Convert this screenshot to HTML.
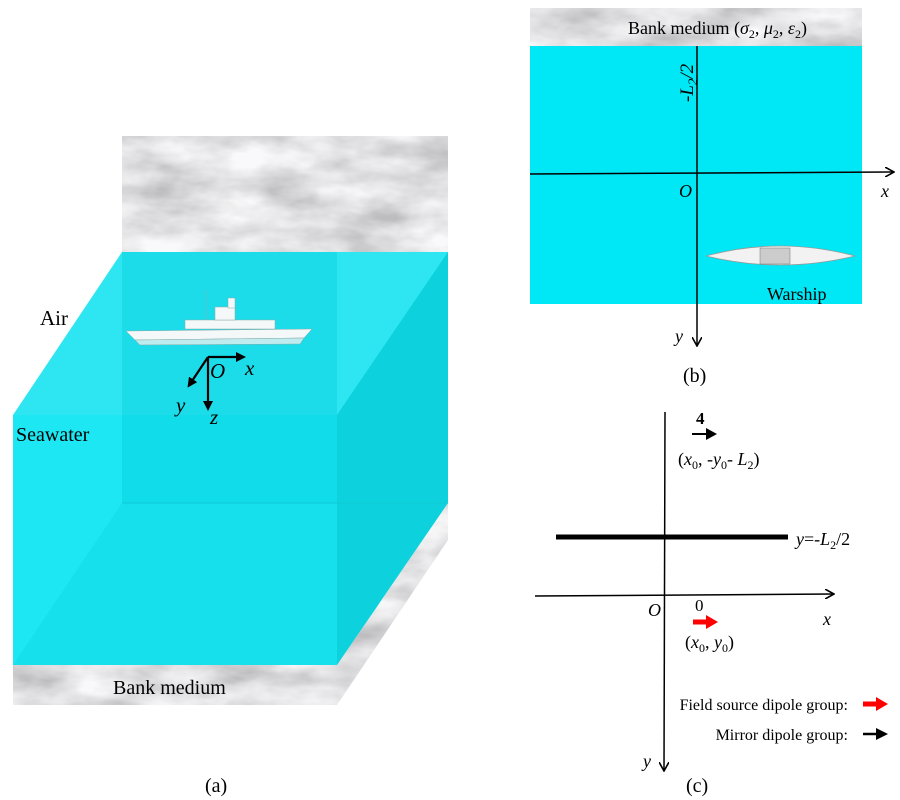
<!DOCTYPE html>
<html><head><meta charset="utf-8"><style>
html,body{margin:0;padding:0;background:#fff;}
svg{display:block;font-family:"Liberation Serif",serif;}
</style></head><body>
<svg width="900" height="800" viewBox="0 0 900 800" xmlns="http://www.w3.org/2000/svg">
<defs>
<filter id="marble" x="0" y="0" width="100%" height="100%">
<feTurbulence type="fractalNoise" baseFrequency="0.015 0.035" numOctaves="4" seed="3" result="n"/>
<feColorMatrix type="matrix" values="0 0 0 0 0.95  0 0 0 0 0.95  0 0 0 0 0.96  -1.6 0 0 0 1.35" in="n" result="c"/>
<feFlood flood-color="#bdbdc0" result="f"/>
<feComposite in="c" in2="f" operator="over"/>
<feComposite in2="SourceGraphic" operator="in"/>
</filter>
<marker id="ah" markerWidth="10" markerHeight="10" refX="8" refY="5" orient="auto" markerUnits="userSpaceOnUse">
<path d="M0,0 L9,5 L0,10" fill="none" stroke="#000" stroke-width="1.6"/></marker>
<marker id="ahf" markerWidth="10" markerHeight="10" refX="2" refY="5" orient="auto" markerUnits="userSpaceOnUse">
<path d="M0,0 L10,5 L0,10 z" fill="#000"/></marker>
</defs>

<!-- Panel (a) -->
<rect x="122" y="136" width="326" height="117" fill="#ccc" filter="url(#marble)"/>
<rect x="13" y="665" width="324" height="40" fill="#ccc" filter="url(#marble)"/>
<polygon points="337,665 448,503 448,540 337,705" fill="#ccc" filter="url(#marble)"/>
<rect x="122" y="252" width="326" height="251" fill="#14dbe8"/>
<polygon points="13,415 122,252 448,252 337,415" fill="#2ee6f2"/>
<polygon points="337,415 448,252 448,503 337,665" fill="#0dd2de"/>
<rect x="13" y="415" width="324" height="250" fill="#10e6f2" opacity="0.95"/>
<rect x="122" y="252" width="215" height="251" fill="#12d6e2" opacity="0.6"/>
<polygon points="13,665 122,503 337,503 337,665" fill="#12dce8" opacity="0.6"/>
<line x1="122" y1="503" x2="448" y2="503" stroke="#0fc9d6" stroke-width="1"/>
<g fill="#f4f8f8" stroke="#8aa" stroke-width="0.5">
<path d="M126,331 L312,329 L304,338 L135,340 Z"/>
<path d="M135,340 L304,338 L300,344 L140,345 Z" fill="#bfecef"/>
<rect x="185" y="320" width="90" height="9"/>
<rect x="215" y="307" width="20" height="13"/>
<rect x="228" y="298" width="7" height="10"/>
<line x1="206" y1="290" x2="206" y2="320"/>
</g>
<text x="40" y="325" font-size="21">Air</text>
<text x="16" y="441" font-size="20">Seawater</text>
<text x="113" y="694" font-size="20">Bank medium</text>
<g stroke="#000" stroke-width="2.2">
<line x1="208" y1="357" x2="238" y2="357" marker-end="url(#ahf)"/>
<line x1="208" y1="357" x2="208" y2="403" marker-end="url(#ahf)"/>
<line x1="208" y1="357" x2="192" y2="381" marker-end="url(#ahf)"/>
</g>
<text x="210" y="378" font-size="21" font-style="italic">O</text>
<text x="245" y="375" font-size="21" font-style="italic">x</text>
<text x="176" y="412" font-size="21" font-style="italic">y</text>
<text x="210" y="424" font-size="21" font-style="italic">z</text>
<text x="205" y="792" font-size="20">(a)</text>

<!-- Panel (b) -->
<rect x="530" y="8" width="332" height="38" fill="#ccc" filter="url(#marble)"/>
<rect x="530" y="46" width="332" height="258" fill="#00e8f5"/>
<text x="628" y="34" font-size="18">Bank medium (<tspan font-style="italic">σ</tspan><tspan font-size="12" dy="4">2</tspan><tspan dy="-4">, </tspan><tspan font-style="italic">μ</tspan><tspan font-size="12" dy="4">2</tspan><tspan dy="-4">, </tspan><tspan font-style="italic">ε</tspan><tspan font-size="12" dy="4">2</tspan><tspan dy="-4">)</tspan></text>
<line x1="530" y1="174" x2="893" y2="172" stroke="#000" stroke-width="1.5" marker-end="url(#ah)"/>
<line x1="697" y1="46" x2="697" y2="345" stroke="#000" stroke-width="1.5" marker-end="url(#ah)"/>
<text transform="translate(693,102) rotate(-90)" font-size="19" font-style="italic">-L<tspan font-size="13" dy="4">2</tspan><tspan dy="-4">/2</tspan></text>
<text x="679" y="197" font-size="18" font-style="italic">O</text>
<text x="881" y="197" font-size="18" font-style="italic">x</text>
<path d="M706,256 Q780,236 855,256 Q780,274 706,256 Z" fill="#f2f2f2" stroke="#999" stroke-width="0.8"/>
<rect x="760" y="248" width="30" height="16" fill="#ccc" stroke="#777" stroke-width="0.5"/>
<text x="767" y="300" font-size="18">Warship</text>
<text x="675" y="342" font-size="18" font-style="italic">y</text>
<text x="683" y="382" font-size="20">(b)</text>

<!-- Panel (c) -->
<line x1="665" y1="412" x2="664" y2="770" stroke="#000" stroke-width="1.5" marker-end="url(#ah)"/>
<line x1="556" y1="537" x2="788" y2="537" stroke="#000" stroke-width="5"/>
<line x1="535" y1="596" x2="833" y2="594" stroke="#000" stroke-width="1.5" marker-end="url(#ah)"/>
<text x="796" y="545" font-size="18" font-style="italic">y<tspan font-style="normal">=-</tspan>L<tspan font-size="12" dy="4" font-style="normal">2</tspan><tspan dy="-4" font-style="normal">/2</tspan></text>
<text x="648" y="616" font-size="18" font-style="italic">O</text>
<text x="823" y="625" font-size="18" font-style="italic">x</text>
<text x="695" y="611" font-size="17">0</text>
<line x1="693" y1="622" x2="708" y2="622" stroke="#f00" stroke-width="5"/>
<path d="M706,615 L718,622 L706,629 Z" fill="#f00"/>
<text x="685" y="648" font-size="18">(<tspan font-style="italic">x</tspan><tspan font-size="12" dy="4">0</tspan><tspan dy="-4">, </tspan><tspan font-style="italic">y</tspan><tspan font-size="12" dy="4">0</tspan><tspan dy="-4">)</tspan></text>
<text x="696" y="424" font-size="17" font-weight="bold">4</text>
<line x1="692" y1="434" x2="710" y2="434" stroke="#000" stroke-width="2"/>
<path d="M706,428 L717,434 L706,440 Z" fill="#000"/>
<text x="678" y="465" font-size="18">(<tspan font-style="italic">x</tspan><tspan font-size="12" dy="4">0</tspan><tspan dy="-4">, -</tspan><tspan font-style="italic">y</tspan><tspan font-size="12" dy="4">0</tspan><tspan dy="-4">- </tspan><tspan font-style="italic">L</tspan><tspan font-size="12" dy="4">2</tspan><tspan dy="-4">)</tspan></text>
<text x="848" y="710" font-size="16" text-anchor="end">Field source dipole group:</text>
<text x="848" y="740" font-size="16" text-anchor="end">Mirror dipole group:</text>
<line x1="863" y1="704" x2="878" y2="704" stroke="#f00" stroke-width="5"/>
<path d="M876,697 L888,704 L876,711 Z" fill="#f00"/>
<line x1="863" y1="734" x2="878" y2="734" stroke="#000" stroke-width="2.5"/>
<path d="M876,728 L888,734 L876,740 Z" fill="#000"/>
<text x="643" y="767" font-size="18" font-style="italic">y</text>
<text x="686" y="792" font-size="20">(c)</text>
</svg>
</body></html>
